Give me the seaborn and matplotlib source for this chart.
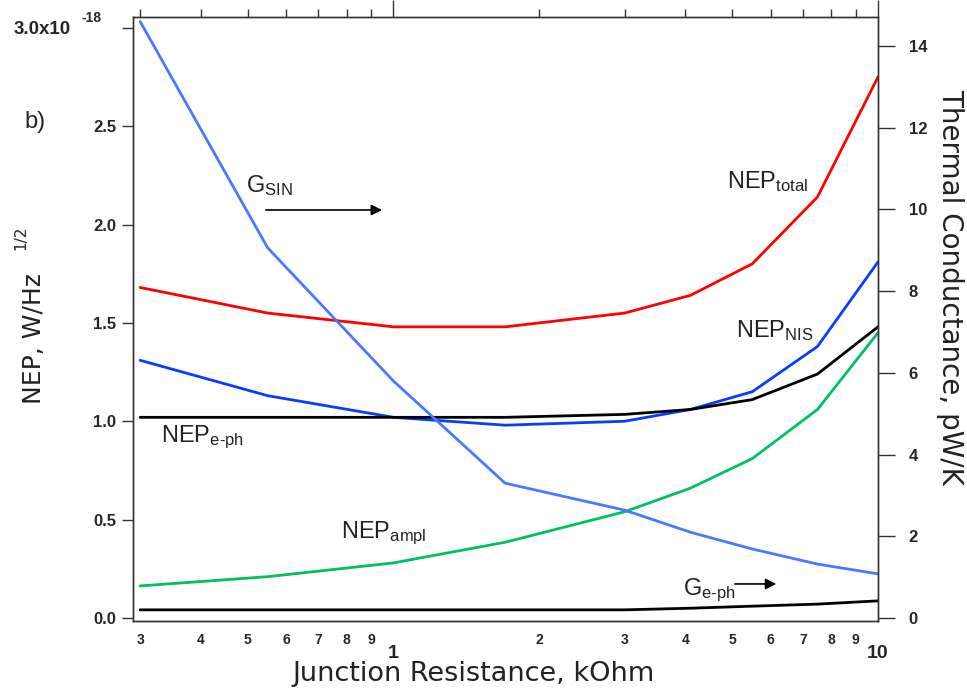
import numpy as np
import pandas as pd
import matplotlib
matplotlib.use("Agg")
import matplotlib.pyplot as plt
import matplotlib.ticker as mticker
import seaborn as sns

# ---- data ----
resistance = [0.3, 0.55, 1.0, 1.7, 3.0, 4.1, 5.5, 7.5, 10.0]          # kOhm
nep_total = [1.68, 1.55, 1.48, 1.48, 1.55, 1.64, 1.80, 2.14, 2.75]     # x1e-18 W/Hz^1/2
nep_nis = [1.31, 1.13, 1.02, 0.98, 1.00, 1.06, 1.15, 1.38, 1.81]
nep_eph = [1.02, 1.02, 1.02, 1.02, 1.035, 1.06, 1.11, 1.24, 1.48]
nep_ampl = [0.163, 0.21, 0.28, 0.385, 0.54, 0.66, 0.81, 1.06, 1.45]
g_sin = [14.6, 9.06, 5.8, 3.3, 2.64, 2.1, 1.69, 1.32, 1.08]             # pW/K
g_eph = [0.2, 0.2, 0.2, 0.2, 0.2, 0.24, 0.29, 0.34, 0.42]

minor_x_labels = {0.3: "3", 0.4: "4", 0.5: "5", 0.6: "6", 0.7: "7", 0.8: "8", 0.9: "9",
                  2: "2", 3: "3", 4: "4", 5: "5", 6: "6", 7: "7", 8: "8", 9: "9"}
left_ticks = [0.0, 0.5, 1.0, 1.5, 2.0, 2.5, 3.0]
left_tick_labels = ["0.0", "0.5", "1.0", "1.5", "2.0", "2.5", ""]
top_left_label = "3.0x10"
right_ticks = [0, 2, 4, 6, 8, 10, 12, 14]

sns.set_style("white")
plt.rcParams['font.family'] = ['Liberation Sans', 'DejaVu Sans']
plt.rcParams['mathtext.fontset'] = 'custom'
plt.rcParams['mathtext.rm'] = 'Liberation Sans'
plt.rcParams['mathtext.it'] = 'Liberation Sans'

W, H = 967, 688
fig = plt.figure(figsize=(W / 100, H / 100), dpi=100)
ax = fig.add_axes([133 / W, 1 - 621 / H, (878 - 133) / W, (621 - 17) / H])
ax2 = ax.twinx()

df = pd.DataFrame({"R": resistance, "tot": nep_total, "nis": nep_nis, "eph": nep_eph,
                   "ampl": nep_ampl, "gsin": g_sin, "geph": g_eph})

lw = 2.0
sns.lineplot(data=df, x="R", y="tot", ax=ax, color="#ff0000", lw=lw)
sns.lineplot(data=df, x="R", y="nis", ax=ax, color="#0a3cff", lw=lw)
sns.lineplot(data=df, x="R", y="eph", ax=ax, color="#000000", lw=lw)
sns.lineplot(data=df, x="R", y="ampl", ax=ax, color="#00c060", lw=lw)
sns.lineplot(data=df, x="R", y="gsin", ax=ax2, color="#4a78ff", lw=lw)
sns.lineplot(data=df, x="R", y="geph", ax=ax2, color="#000000", lw=lw)

ax.set_xscale("log")
ax.set_xlim(0.29, 10.0)
ax.set_ylim(-0.0153, 3.055)
ax2.set_ylim(-0.073, 14.71)

for a in (ax, ax2):
    a.set_xlabel("")
    a.set_ylabel("")
    for s in a.spines.values():
        s.set_color("#333333")
        s.set_linewidth(1.0)
        s.set_visible(True)

# x ticks
ax.xaxis.set_major_locator(mticker.FixedLocator([1, 10]))
ax.xaxis.set_minor_locator(mticker.FixedLocator(list(minor_x_labels.keys())))
ax.xaxis.set_major_formatter(mticker.FixedFormatter(["1", "10"]))
ax.xaxis.set_minor_formatter(mticker.FixedFormatter(list(minor_x_labels.values())))
ax.tick_params(axis="x", which="major", direction="out", length=12, width=1, top=True,
               labelsize=14, pad=5, color="#333333")
ax.tick_params(axis="x", which="minor", direction="out", length=6, width=1, top=True,
               labelsize=10, pad=3, color="#333333")
for lab in ax.get_xticklabels(which="both"):
    lab.set_fontweight("bold")

ax.set_yticks(left_ticks)
ax.set_yticklabels(left_tick_labels, fontweight="bold", fontsize=12)
ax.tick_params(axis="y", direction="out", length=8, width=1, left=True, pad=4, color="#333333")

ax2.set_yticks(right_ticks)
ax2.set_yticklabels([str(t) for t in right_ticks], fontweight="bold", fontsize=12)
ax2.tick_params(axis="y", direction="out", length=12, width=1, right=True, pad=10, color="#333333")

# top-left tick label with exponent
fig.text(71 / W, 1 - 29 / H, top_left_label, ha="right", va="center", fontsize=13.5, fontweight="bold")
fig.text(92 / W, 1 - 18 / H, "-18", ha="center", va="center", fontsize=10, fontweight="bold")

# axis labels
fig.text(0.5 * (282 + 665) / W, 1 - 674 / H, "Junction Resistance, kOhm", ha="center", va="center",
         fontsize=19.5, family="DejaVu Sans", color="#222222")
fig.text(34 / W, 1 - 338 / H, "NEP, W/Hz", rotation=90, ha="center", va="center",
         fontsize=18, family="DejaVu Sans", color="#222222")
fig.text(21 / W, 1 - 238 / H, "1/2", rotation=90, ha="center", va="center",
         fontsize=11, family="DejaVu Sans", color="#222222")
fig.text(950 / W, 1 - 287 / H, "Thermal Conductance, pW/K", rotation=-90, ha="center", va="center",
         fontsize=20, family="DejaVu Sans", color="#222222")
fig.text(35 / W, 1 - 122 / H, "b)", ha="center", va="center", fontsize=17, color="#222222")

# annotations
tkw = dict(fontsize=17, color="#222222")
ax.text(5.91, 2.22, r"NEP$_{\mathrm{total}}$", ha="center", va="center", **tkw)
ax.text(6.11, 1.46, r"NEP$_{\mathrm{NIS}}$", ha="center", va="center", **tkw)
ax.text(0.332, 0.92, r"NEP$_{\mathrm{e\text{-}ph}}$", ha="left", va="center", **tkw)
ax.text(0.778, 0.432, r"NEP$_{\mathrm{ampl}}$", ha="left", va="center", **tkw)
ax.text(0.496, 2.20, r"G$_{\mathrm{SIN}}$", ha="left", va="center", **tkw)
ax.text(3.95, 0.14, r"G$_{\mathrm{e\text{-}ph}}$", ha="left", va="center", **tkw)
ax.annotate("", xy=(0.96, 2.074), xytext=(0.538, 2.074),
            arrowprops=dict(arrowstyle="-|>", color="black", lw=1.2, mutation_scale=16))
ax.annotate("", xy=(6.25, 0.173), xytext=(5.0, 0.173),
            arrowprops=dict(arrowstyle="-|>", color="black", lw=1.2, mutation_scale=16))

fig.savefig("out.png", dpi=100)
